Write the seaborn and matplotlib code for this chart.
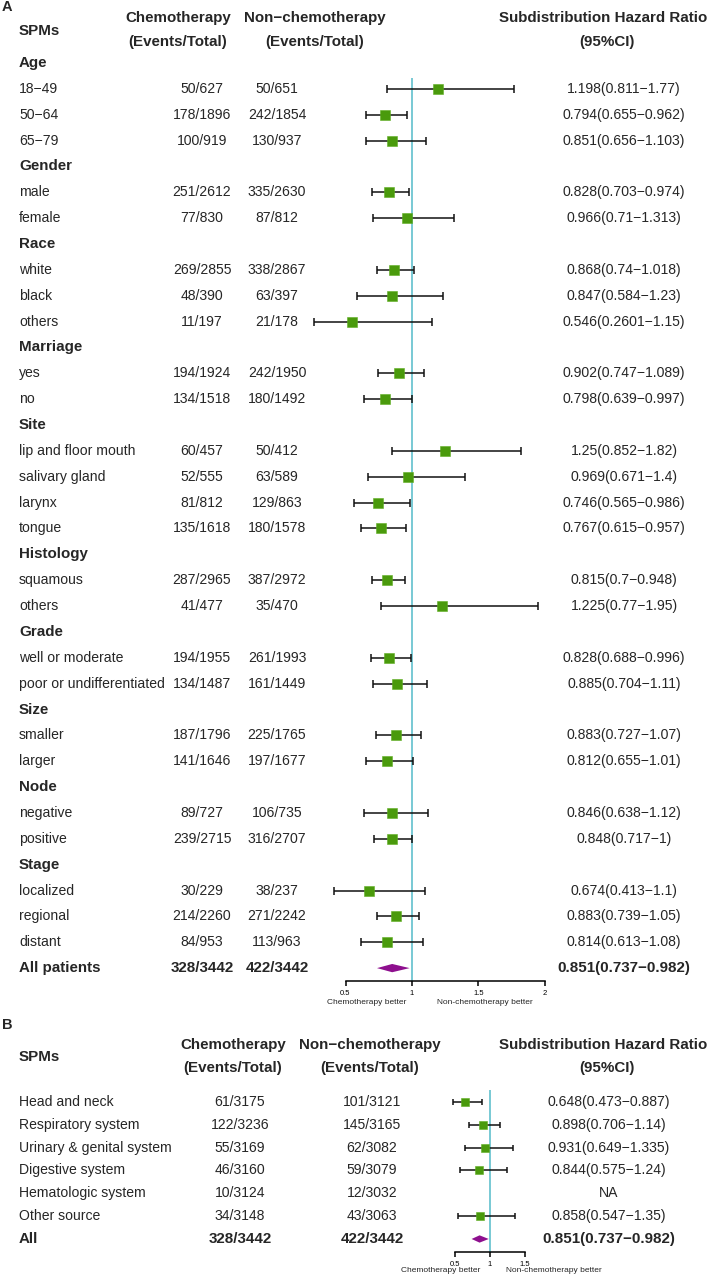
import numpy as np
import pandas as pd
import matplotlib
matplotlib.use("Agg")
import matplotlib.pyplot as plt
import seaborn as sns

# ---------------- data: panel A ----------------
a_groups = ["Age", "Gender", "Race", "Marriage", "Site", "Histology", "Grade", "Size", "Node", "Stage"]
a_group_sizes = [3, 2, 3, 2, 4, 2, 2, 2, 2, 3]
a_labels = ["18−49", "50−64", "65−79", "male", "female", "white", "black", "others",
            "yes", "no", "lip and floor mouth", "salivary gland", "larynx", "tongue",
            "squamous", "others", "well or moderate", "poor or undifferentiated",
            "smaller", "larger", "negative", "positive", "localized", "regional", "distant"]
a_chemo = ["50/627", "178/1896", "100/919", "251/2612", "77/830", "269/2855", "48/390", "11/197",
           "194/1924", "134/1518", "60/457", "52/555", "81/812", "135/1618", "287/2965", "41/477",
           "194/1955", "134/1487", "187/1796", "141/1646", "89/727", "239/2715", "30/229",
           "214/2260", "84/953"]
a_nonchemo = ["50/651", "242/1854", "130/937", "335/2630", "87/812", "338/2867", "63/397", "21/178",
              "242/1950", "180/1492", "50/412", "63/589", "129/863", "180/1578", "387/2972", "35/470",
              "261/1993", "161/1449", "225/1765", "197/1677", "106/735", "316/2707", "38/237",
              "271/2242", "113/963"]
a_hr = [1.198, 0.794, 0.851, 0.828, 0.966, 0.868, 0.847, 0.546, 0.902, 0.798, 1.25, 0.969, 0.746,
        0.767, 0.815, 1.225, 0.828, 0.885, 0.883, 0.812, 0.846, 0.848, 0.674, 0.883, 0.814]
a_lo = [0.811, 0.655, 0.656, 0.703, 0.71, 0.74, 0.584, 0.2601, 0.747, 0.639, 0.852, 0.671, 0.565,
        0.615, 0.7, 0.77, 0.688, 0.704, 0.727, 0.655, 0.638, 0.717, 0.413, 0.739, 0.613]
a_hi = [1.77, 0.962, 1.103, 0.974, 1.313, 1.018, 1.23, 1.15, 1.089, 0.997, 1.82, 1.4, 0.986,
        0.957, 0.948, 1.95, 0.996, 1.11, 1.07, 1.01, 1.12, 1, 1.1, 1.05, 1.08]
a_all = {"label": "All patients", "chemo": "328/3442", "nonchemo": "422/3442",
         "hr": 0.851, "lo": 0.737, "hi": 0.982}
a_ticks = [0.5, 1, 1.5, 2]

# ---------------- data: panel B ----------------
b_labels = ["Head and neck", "Respiratory system", "Urinary & genital system",
            "Digestive system", "Hematologic system", "Other source"]
b_chemo = ["61/3175", "122/3236", "55/3169", "46/3160", "10/3124", "34/3148"]
b_nonchemo = ["101/3121", "145/3165", "62/3082", "59/3079", "12/3032", "43/3063"]
b_hr = [0.648, 0.898, 0.931, 0.844, np.nan, 0.858]
b_lo = [0.473, 0.706, 0.649, 0.575, np.nan, 0.547]
b_hi = [0.887, 1.14, 1.335, 1.24, np.nan, 1.35]
b_all = {"label": "All", "chemo": "328/3442", "nonchemo": "422/3442",
         "hr": 0.851, "lo": 0.737, "hi": 0.982}
b_ticks = [0.5, 1, 1.5]

# ---------------- style ----------------
sns.set_theme(style="white")
plt.rcParams["font.family"] = ["Liberation Sans", "DejaVu Sans"]
GREEN = "#4a9a0c"
PURPLE = "#8e0f8e"
CYAN = "#78c9d4"
W, H = 709, 1278


def hr_text(h, l, u):
    if np.isnan(h):
        return "NA"
    return f"{h:g}({l:g}−{u:g})"


fig = plt.figure(figsize=(W / 100, H / 100), dpi=100)
tx = fig.add_axes([0, 0, 1, 1])
tx.set_xlim(0, W)
tx.set_ylim(H, 0)
tx.axis("off")

REG = 10.1
BOLD = 10.9


def forest_axes(px_left, px_right, px_top, px_bottom, ref_px, px_per_unit, y0, dy):
    ax = fig.add_axes([px_left / W, 1 - px_bottom / H, (px_right - px_left) / W,
                       (px_bottom - px_top) / H])
    ax.set_xlim(1 + (px_left - ref_px) / px_per_unit, 1 + (px_right - ref_px) / px_per_unit)
    ax.set_ylim((px_bottom - y0) / dy, (px_top - y0) / dy)
    ax.patch.set_alpha(0)
    return ax


def draw_forest(ax, rows, hr, lo, hi, all_row, all_vals, ticks, msize, caps, dhalf):
    df = pd.DataFrame({"row": rows, "hr": hr, "lo": lo, "hi": hi}).dropna()
    ax.axvline(1, color=CYAN, lw=1.4, zorder=1)
    ax.errorbar(df["hr"], df["row"], xerr=[df["hr"] - df["lo"], df["hi"] - df["hr"]],
                fmt="none", ecolor="#111111", elinewidth=1.1, capsize=caps,
                capthick=1.1, zorder=2)
    sns.scatterplot(data=df, x="hr", y="row", marker="s", s=msize, color=GREEN,
                    edgecolor="#5fae22", linewidth=0.4, zorder=3, ax=ax, legend=False)
    lo_, est, hi_ = all_vals["lo"], all_vals["hr"], all_vals["hi"]
    ax.fill([lo_, est, hi_, est], [all_row, all_row - dhalf, all_row, all_row + dhalf],
            color=PURPLE, lw=0, zorder=3)
    for s in ["top", "right", "left"]:
        ax.spines[s].set_visible(False)
    ax.spines["bottom"].set_bounds(ticks[0], ticks[-1])
    ax.spines["bottom"].set_color("black")
    ax.spines["bottom"].set_linewidth(1.1)
    ax.set_xticks(ticks)
    ax.set_xticklabels([f"{t:g}" for t in ticks])
    ax.set_yticks([])
    ax.set_xlabel("")
    ax.set_ylabel("")
    ax.tick_params(axis="x", bottom=True, direction="out", length=3.8, width=1.1,
                   labelsize=5.5, pad=2.5, colors="black")
    ax.grid(False)


# ---------------- panel A ----------------
A_Y0, A_DY = 63.0, 25.86
A_CHEMO_X, A_NON_X, A_HR_X, A_LAB_X = 202, 277, 624, 19


def ya(r):
    return A_Y0 + A_DY * r


tx.text(2, 0, "A", fontsize=10.5, fontweight="bold", ha="left", va="top")
tx.text(A_LAB_X, 31, "SPMs", fontsize=BOLD, fontweight="bold", ha="left", va="center")
tx.text(178, 18, "Chemotherapy", fontsize=BOLD, fontweight="bold", ha="center", va="center")
tx.text(178, 42, "(Events/Total)", fontsize=BOLD, fontweight="bold", ha="center", va="center")
tx.text(315, 18, "Non−chemotherapy", fontsize=BOLD, fontweight="bold", ha="center", va="center")
tx.text(315, 42, "(Events/Total)", fontsize=BOLD, fontweight="bold", ha="center", va="center")
tx.text(603, 18, "Subdistribution Hazard Ratio", fontsize=BOLD, fontweight="bold",
        ha="center", va="center")
tx.text(607, 42, "(95%CI)", fontsize=BOLD, fontweight="bold", ha="center", va="center")

a_rows = []
r = 0
k = 0
for g, n in zip(a_groups, a_group_sizes):
    tx.text(A_LAB_X, ya(r), g, fontsize=BOLD, fontweight="bold", ha="left", va="center")
    r += 1
    for _ in range(n):
        a_rows.append(r)
        tx.text(A_LAB_X, ya(r), a_labels[k], fontsize=REG, ha="left", va="center")
        tx.text(A_CHEMO_X, ya(r), a_chemo[k], fontsize=REG, ha="center", va="center")
        tx.text(A_NON_X, ya(r), a_nonchemo[k], fontsize=REG, ha="center", va="center")
        tx.text(A_HR_X, ya(r), hr_text(a_hr[k], a_lo[k], a_hi[k]), fontsize=REG,
                ha="center", va="center")
        r += 1
        k += 1
a_all_row = r
tx.text(A_LAB_X, ya(r), a_all["label"], fontsize=BOLD, fontweight="bold", ha="left", va="center")
tx.text(A_CHEMO_X, ya(r), a_all["chemo"], fontsize=BOLD, fontweight="bold", ha="center", va="center")
tx.text(A_NON_X, ya(r), a_all["nonchemo"], fontsize=BOLD, fontweight="bold", ha="center", va="center")
tx.text(A_HR_X, ya(r), hr_text(a_all["hr"], a_all["lo"], a_all["hi"]), fontsize=BOLD,
        fontweight="bold", ha="center", va="center")

axA = forest_axes(290, 575, 78, 981, 412, 133, A_Y0, A_DY)
draw_forest(axA, a_rows, a_hr, a_lo, a_hi, a_all_row, a_all, a_ticks, 52, 2.9, 0.16)
tx.text(367, 1003, "Chemotherapy better", fontsize=6, ha="center", va="center")
tx.text(485, 1003, "Non-chemotherapy better", fontsize=6, ha="center", va="center")

# ---------------- panel B ----------------
B_Y0, B_DY = 1102.0, 22.83
B_CHEMO_X, B_NON_X, B_HR_X = 240, 372, 609


def yb(r):
    return B_Y0 + B_DY * r


tx.text(2, 1018, "B", fontsize=10.5, fontweight="bold", ha="left", va="top")
tx.text(A_LAB_X, 1057, "SPMs", fontsize=BOLD, fontweight="bold", ha="left", va="center")
tx.text(233, 1045, "Chemotherapy", fontsize=BOLD, fontweight="bold", ha="center", va="center")
tx.text(233, 1068, "(Events/Total)", fontsize=BOLD, fontweight="bold", ha="center", va="center")
tx.text(370, 1045, "Non−chemotherapy", fontsize=BOLD, fontweight="bold", ha="center", va="center")
tx.text(370, 1068, "(Events/Total)", fontsize=BOLD, fontweight="bold", ha="center", va="center")
tx.text(603, 1045, "Subdistribution Hazard Ratio", fontsize=BOLD, fontweight="bold",
        ha="center", va="center")
tx.text(607, 1068, "(95%CI)", fontsize=BOLD, fontweight="bold", ha="center", va="center")

b_rows = list(range(len(b_labels)))
for i, lab in enumerate(b_labels):
    tx.text(A_LAB_X, yb(i), lab, fontsize=REG, ha="left", va="center")
    tx.text(B_CHEMO_X, yb(i), b_chemo[i], fontsize=REG, ha="center", va="center")
    tx.text(B_NON_X, yb(i), b_nonchemo[i], fontsize=REG, ha="center", va="center")
    tx.text(B_HR_X, yb(i), hr_text(b_hr[i], b_lo[i], b_hi[i]), fontsize=REG,
            ha="center", va="center")
b_all_row = len(b_labels)
tx.text(A_LAB_X, yb(b_all_row), b_all["label"], fontsize=BOLD, fontweight="bold", ha="left", va="center")
tx.text(B_CHEMO_X, yb(b_all_row), b_all["chemo"], fontsize=BOLD, fontweight="bold", ha="center", va="center")
tx.text(B_NON_X, yb(b_all_row), b_all["nonchemo"], fontsize=BOLD, fontweight="bold", ha="center", va="center")
tx.text(B_HR_X, yb(b_all_row), hr_text(b_all["hr"], b_all["lo"], b_all["hi"]), fontsize=BOLD,
        fontweight="bold", ha="center", va="center")

axB = forest_axes(425, 560, 1090, 1252, 490, 70, B_Y0, B_DY)
draw_forest(axB, b_rows, b_hr, b_lo, b_hi, b_all_row, b_all, b_ticks, 38, 2.5, 0.16)
tx.text(441, 1271, "Chemotherapy better", fontsize=6, ha="center", va="center")
tx.text(554, 1271, "Non-chemotherapy better", fontsize=6, ha="center", va="center")

fig.savefig("out.png", dpi=100, facecolor="white")
